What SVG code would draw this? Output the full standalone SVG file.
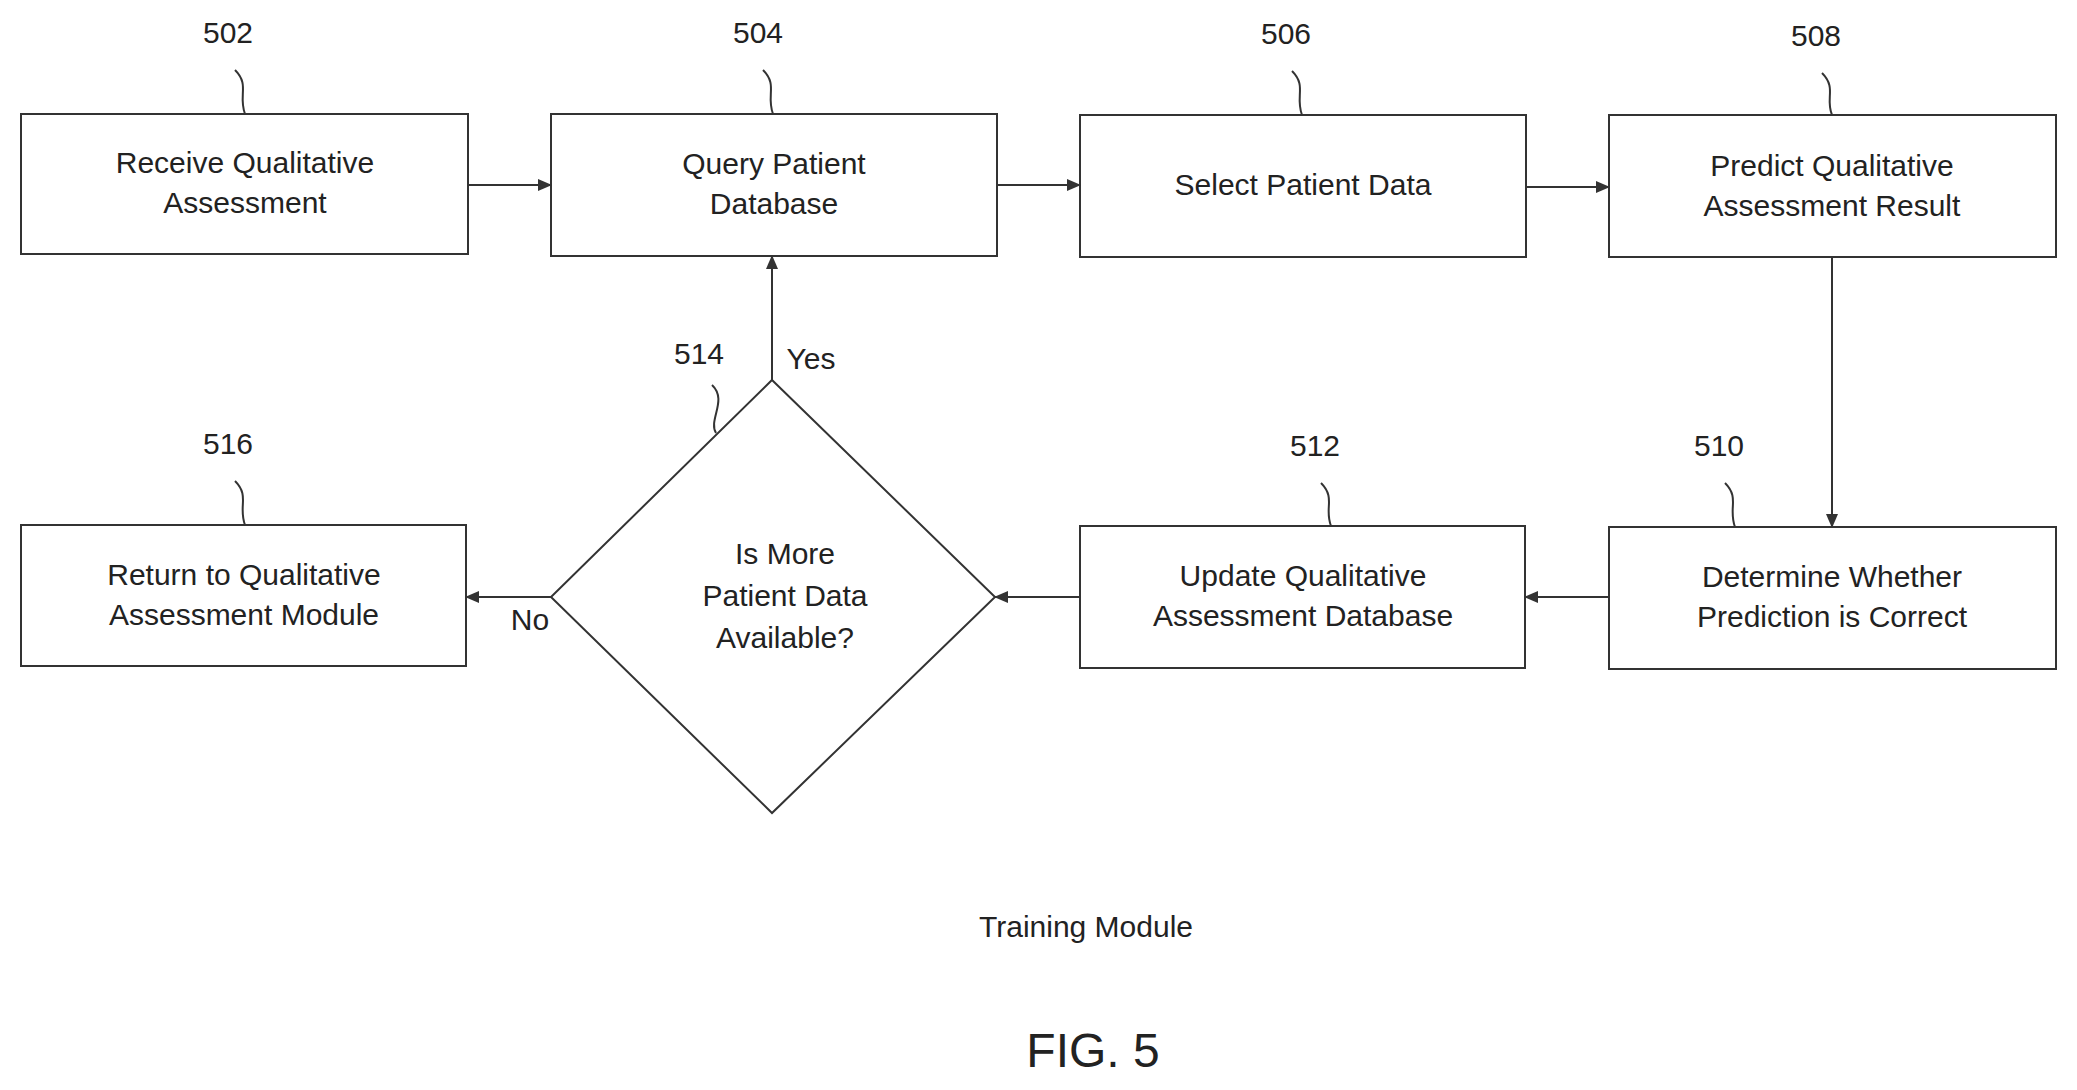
<svg xmlns="http://www.w3.org/2000/svg" width="2077" height="1090" viewBox="0 0 2077 1090">
<style>
.b{fill:#fff;stroke:#333;stroke-width:2}
.t{font-family:"Liberation Sans",Arial,sans-serif;font-size:30px;fill:#222;text-anchor:middle}
.c{fill:none;stroke:#333;stroke-width:2}
</style>
<defs><marker id="a" markerWidth="14" markerHeight="12" refX="13" refY="6" orient="auto" markerUnits="userSpaceOnUse"><path d="M0,0L14,6L0,12z" fill="#333"/></marker></defs>
<rect width="2077" height="1090" fill="#fff"/>
<g id="n502"><rect class="b" x="21" y="114" width="447" height="140"/><text class="t" x="245" y="173">Receive Qualitative</text><text class="t" x="245" y="213">Assessment</text><text class="t" x="228" y="43">502</text><path class="c" d="M235,70 C250,85 238,95 245,114"/></g>
<g id="n504"><rect class="b" x="551" y="114" width="446" height="142"/><text class="t" x="774" y="174">Query Patient</text><text class="t" x="774" y="214">Database</text><text class="t" x="758" y="43">504</text><path class="c" d="M763,70 C778,85 766,95 773,114"/></g>
<g id="n506"><rect class="b" x="1080" y="115" width="446" height="142"/><text class="t" x="1303" y="195">Select Patient Data</text><text class="t" x="1286" y="44">506</text><path class="c" d="M1292,71 C1307,86 1295,96 1302,115"/></g>
<g id="n508"><rect class="b" x="1609" y="115" width="447" height="142"/><text class="t" x="1832" y="176">Predict Qualitative</text><text class="t" x="1832" y="216">Assessment Result</text><text class="t" x="1816" y="46">508</text><path class="c" d="M1822,73 C1837,88 1825,98 1832,115"/></g>
<g id="n510"><rect class="b" x="1609" y="527" width="447" height="142"/><text class="t" x="1832" y="587">Determine Whether</text><text class="t" x="1832" y="627">Prediction is Correct</text><text class="t" x="1719" y="456">510</text><path class="c" d="M1725,483 C1740,498 1728,508 1735,527"/></g>
<g id="n512"><rect class="b" x="1080" y="526" width="445" height="142"/><text class="t" x="1303" y="586">Update Qualitative</text><text class="t" x="1303" y="626">Assessment Database</text><text class="t" x="1315" y="456">512</text><path class="c" d="M1321,483 C1336,498 1324,508 1331,526"/></g>
<g id="n514"><path class="b" d="M772,380L995,597L772,813L551,597z"/><text class="t" x="785" y="564">Is More</text><text class="t" x="785" y="606">Patient Data</text><text class="t" x="785" y="648">Available?</text><text class="t" x="699" y="364">514</text><path class="c" d="M712,385 C728,400 708,420 716,433"/></g>
<g id="n516"><rect class="b" x="21" y="525" width="445" height="141"/><text class="t" x="244" y="585">Return to Qualitative</text><text class="t" x="244" y="625">Assessment Module</text><text class="t" x="228" y="454">516</text><path class="c" d="M235,481 C250,496 238,506 245,525"/></g>
<g id="connectors">
<path class="c" d="M468,185H551" marker-end="url(#a)"/>
<path class="c" d="M997,185H1080" marker-end="url(#a)"/>
<path class="c" d="M1526,187H1609" marker-end="url(#a)"/>
<path class="c" d="M1832,257V527" marker-end="url(#a)"/>
<path class="c" d="M1609,597H1525" marker-end="url(#a)"/>
<path class="c" d="M1080,597H995" marker-end="url(#a)"/>
<path class="c" d="M551,597H466" marker-end="url(#a)"/>
<path class="c" d="M772,380V256" marker-end="url(#a)"/>
<text class="t" x="811" y="369">Yes</text>
<text class="t" x="530" y="630">No</text>
</g>
<text class="t" x="1086" y="937">Training Module</text>
<text class="t" x="1093" y="1067" style="font-size:48px">FIG. 5</text>
</svg>
